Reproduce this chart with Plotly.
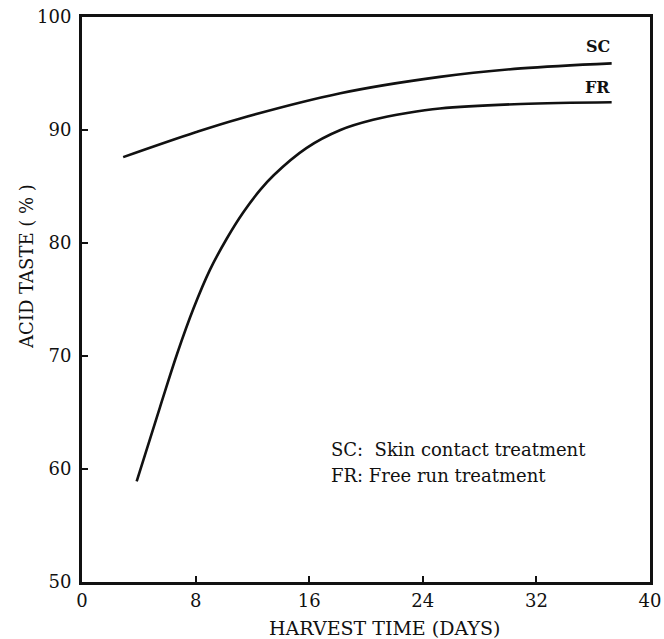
import plotly.graph_objects as go

# Data
sc_days = [2.9, 8.0, 11.1, 18.2, 25.2, 30.9, 37.3]
sc_acid = [87.6, 89.8, 91.0, 93.25, 94.7, 95.45, 95.9]

fr_days = [3.85, 5.5, 6.7, 7.85, 9.0, 10.2, 11.35, 12.55, 13.5, 15.8, 18.2, 20.5, 22.9, 25.2, 30.9, 37.3]
fr_acid = [58.9, 65.5, 70.2, 74.2, 77.6, 80.4, 82.7, 84.7, 86.0, 88.4, 90.0, 90.9, 91.5, 91.9, 92.3, 92.45]

x_ticks = [0, 8, 16, 24, 32, 40]
y_ticks = [50, 60, 70, 80, 90, 100]

FONT = "DejaVu Serif"
INK = "#111111"

fig = go.Figure()
for xs, ys in ((sc_days, sc_acid), (fr_days, fr_acid)):
    fig.add_trace(go.Scatter(x=xs, y=ys, mode="lines",
                             line=dict(color=INK, width=2.6, shape="spline", smoothing=1.0),
                             showlegend=False, hoverinfo="skip"))

axis_common = dict(showline=True, linecolor=INK, linewidth=3, mirror=True,
                   showgrid=False, zeroline=False, ticks="inside", ticklen=6,
                   tickwidth=2, tickcolor=INK, automargin=False,
                   tickfont=dict(family=FONT, size=18, color=INK))

fig.update_xaxes(range=[0, 40], tickvals=x_ticks, ticktext=[str(v) for v in x_ticks],
                 ticklabelstandoff=0, **axis_common)
fig.update_yaxes(range=[50, 100], tickvals=y_ticks, ticktext=[str(v) for v in y_ticks],
                 ticklabelstandoff=4, **axis_common)

L, R, T, B = 82, 14, 17, 57
W, H = 664, 639
pw, ph = W - L - R, H - T - B


def px2paper(px, py):
    return (px - L) / pw, 1 - (py - T) / ph


anns = []
anns.append(dict(text="SC", x=37.3, y=97.35, xref="x", yref="y", xanchor="right", yanchor="middle",
                 font=dict(family=FONT, size=16, color=INK, weight="bold"), showarrow=False))
anns.append(dict(text="FR", x=37.3, y=93.8, xref="x", yref="y", xanchor="right", yanchor="middle",
                 font=dict(family=FONT, size=16, color=INK, weight="bold"), showarrow=False))
anns.append(dict(text="SC:  Skin contact treatment", x=17.4, y=61.7, xref="x", yref="y",
                 xanchor="left", yanchor="middle",
                 font=dict(family=FONT, size=18, color=INK), showarrow=False))
anns.append(dict(text="FR: Free run treatment", x=17.4, y=59.4, xref="x", yref="y",
                 xanchor="left", yanchor="middle",
                 font=dict(family=FONT, size=18, color=INK), showarrow=False))
ax, ay = px2paper(384, 628)
anns.append(dict(text="HARVEST TIME (DAYS)", x=ax, y=ay, xref="paper", yref="paper",
                 xanchor="center", yanchor="middle", showarrow=False,
                 font=dict(family=FONT, size=19, color=INK)))
ax, ay = px2paper(26, 267)
anns.append(dict(text="ACID TASTE ( % )", textangle=-90, x=ax, y=ay, xref="paper", yref="paper",
                 xanchor="center", yanchor="middle", showarrow=False,
                 font=dict(family=FONT, size=18, color=INK)))

fig.update_layout(width=W, height=H, margin=dict(l=L, r=R, t=T, b=B),
                  paper_bgcolor="white", plot_bgcolor="white",
                  annotations=anns)

fig.write_html("out.html", config={"displayModeBar": False},
               post_script="document.body.style.margin='0';document.body.style.padding='0';")
